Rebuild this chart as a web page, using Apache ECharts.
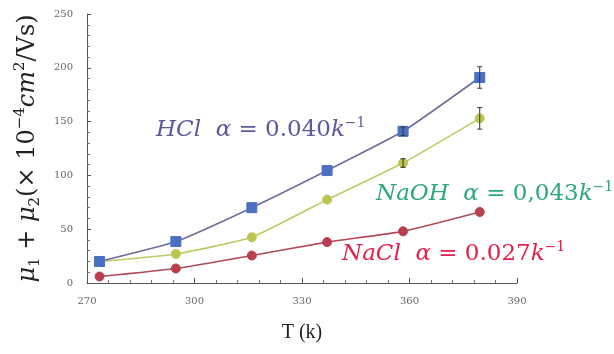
<!DOCTYPE html>
<html>
<head>
<meta charset="utf-8">
<script src="https://cdn.jsdelivr.net/npm/echarts@6/dist/echarts.min.js"></script>
<style>
  html, body { margin: 0; padding: 0; background: #fff; }
  #chart { width: 614px; height: 354px; }
</style>
</head>
<body>
<div id="chart"></div>
<script>
// Temperature (K) and mobility sums (×10⁻⁴ cm²/Vs)
const temps = [273.5, 294.8, 316, 337, 358.2, 379.6];
const hcl = [20, 38.5, 70, 104.5, 141, 191];
const naoh = [20, 27, 42.5, 77.5, 111.5, 153];
const nacl = [6, 13.5, 25.5, 38, 48, 66];
const hclErr = [0, 0, 0, 0, 4, 10];
const naohErr = [0, 0, 0, 0, 4, 10];
const naclErr = [0, 0, 0, 0, 0, 0];
const xTicks = [270, 300, 330, 360, 390];
const yTicks = [0, 50, 100, 150, 200, 250];

const serif = '"DejaVu Serif", "Liberation Serif", serif';
const labelFont = '"DejaVu Serif", serif';

function pairs(ys) { return temps.map((t, i) => [t, ys[i]]); }
function errData(ys, es) { return temps.map((t, i) => [t, ys[i], es[i]]); }

function errorBars(name, ys, es) {
  return {
    type: 'custom',
    name: name + ' error',
    z: 5,
    silent: true,
    data: errData(ys, es),
    renderItem: function (params, api) {
      const x = api.value(0), y = api.value(1), e = api.value(2);
      if (!(e > 0)) return null;
      const top = api.coord([x, y + e]);
      const bot = api.coord([x, y - e]);
      const w = 2.5;
      const st = { stroke: '#333', lineWidth: 1 };
      return {
        type: 'group',
        children: [
          { type: 'line', shape: { x1: top[0], y1: top[1], x2: bot[0], y2: bot[1] }, style: st },
          { type: 'line', shape: { x1: top[0] - w, y1: top[1], x2: top[0] + w, y2: top[1] }, style: st },
          { type: 'line', shape: { x1: bot[0] - w, y1: bot[1], x2: bot[0] + w, y2: bot[1] }, style: st }
        ]
      };
    }
  };
}

function lineSeries(name, ys, lineColor, markColor, symbol, size) {
  return {
    type: 'line',
    name: name,
    data: pairs(ys),
    smooth: 0.15,
    symbol: symbol,
    symbolSize: size,
    z: 3,
    lineStyle: { color: lineColor, width: 1.6 },
    itemStyle: { color: markColor, borderColor: markColor },
    emphasis: { disabled: true }
  };
}

const mathRich = function (color, size) {
  return {
    i: { fontFamily: serif, fontStyle: 'italic', fontSize: size, fill: color },
    n: { fontFamily: serif, fontSize: size, fill: color },
    sup: { fontFamily: serif, fontSize: Math.round(size * 0.62), fill: color, verticalAlign: 'top' }
  };
};

function annotation(left, top, label, alphaText, color) {
  return {
    type: 'text',
    left: left,
    top: top,
    style: {
      text: '{i|' + label + '}{n|  }{i|α}{n| = ' + alphaText + '}{i|k}{sup|−1}',
      rich: mathRich(color, 23),
      lineHeight: 28
    }
  };
}

const chart = echarts.init(document.getElementById('chart'));
chart.setOption({
  animation: false,
  backgroundColor: '#fff',
  grid: { left: 87, right: 97, top: 14, bottom: 71 },
  xAxis: {
    type: 'value',
    min: xTicks[0],
    max: xTicks[xTicks.length - 1],
    interval: 30,
    name: 'T (k)',
    nameLocation: 'middle',
    nameGap: 40,
    nameTextStyle: { fontFamily: '"Liberation Serif", serif', fontSize: 20, color: '#222' },
    axisLine: { lineStyle: { color: '#555', width: 1 } },
    axisTick: { inside: true, length: 5, lineStyle: { color: '#555' } },
    minorTick: { show: true, splitNumber: 5, length: 3, lineStyle: { color: '#777' } },
    splitLine: { show: false },
    axisLabel: { fontFamily: labelFont, fontSize: 10, color: '#666', margin: 13 }
  },
  yAxis: {
    type: 'value',
    min: yTicks[0],
    max: yTicks[yTicks.length - 1],
    interval: 50,
    name: '{i|μ}{sub|1}{n| + }{i|μ}{sub|2}{n|(× 10}{sup|−4}{i|cm}{sup|2}{n|/Vs)}',
    nameLocation: 'middle',
    nameRotate: 90,
    nameGap: 44,
    nameTextStyle: {
      lineHeight: 30,
      rich: {
        i: { fontFamily: serif, fontStyle: 'italic', fontSize: 24, color: '#222' },
        n: { fontFamily: serif, fontSize: 24, color: '#222' },
        sub: { fontFamily: serif, fontSize: 15, color: '#222', verticalAlign: 'bottom' },
        sup: { fontFamily: serif, fontSize: 15, color: '#222', verticalAlign: 'top' }
      }
    },
    axisLine: { show: true, lineStyle: { color: '#555', width: 1 } },
    axisTick: { show: true, inside: true, length: 4, lineStyle: { color: '#555' } },
    minorTick: { show: true, splitNumber: 5, length: 3, lineStyle: { color: '#777' } },
    splitLine: { show: false },
    axisLabel: { fontFamily: labelFont, fontSize: 10, color: '#666', margin: 14 }
  },
  series: [
    lineSeries('NaCl', nacl, '#b04a55', '#b8404e', 'circle', 9),
    lineSeries('NaOH', naoh, '#bccb66', '#bcc452', 'circle', 9),
    lineSeries('HCl', hcl, '#6e6e9e', '#4d6fc2', 'rect', 10),
    errorBars('NaCl', nacl, naclErr),
    errorBars('NaOH', naoh, naohErr),
    errorBars('HCl', hcl, hclErr)
  ],
  graphic: [
    annotation(156, 116, 'HCl', '0.040', '#5a5a9c'),
    annotation(376, 180, 'NaOH', '0,043', '#2ea77c'),
    annotation(342, 240, 'NaCl', '0.027', '#e0224c')
  ]
});
</script>
</body>
</html>
